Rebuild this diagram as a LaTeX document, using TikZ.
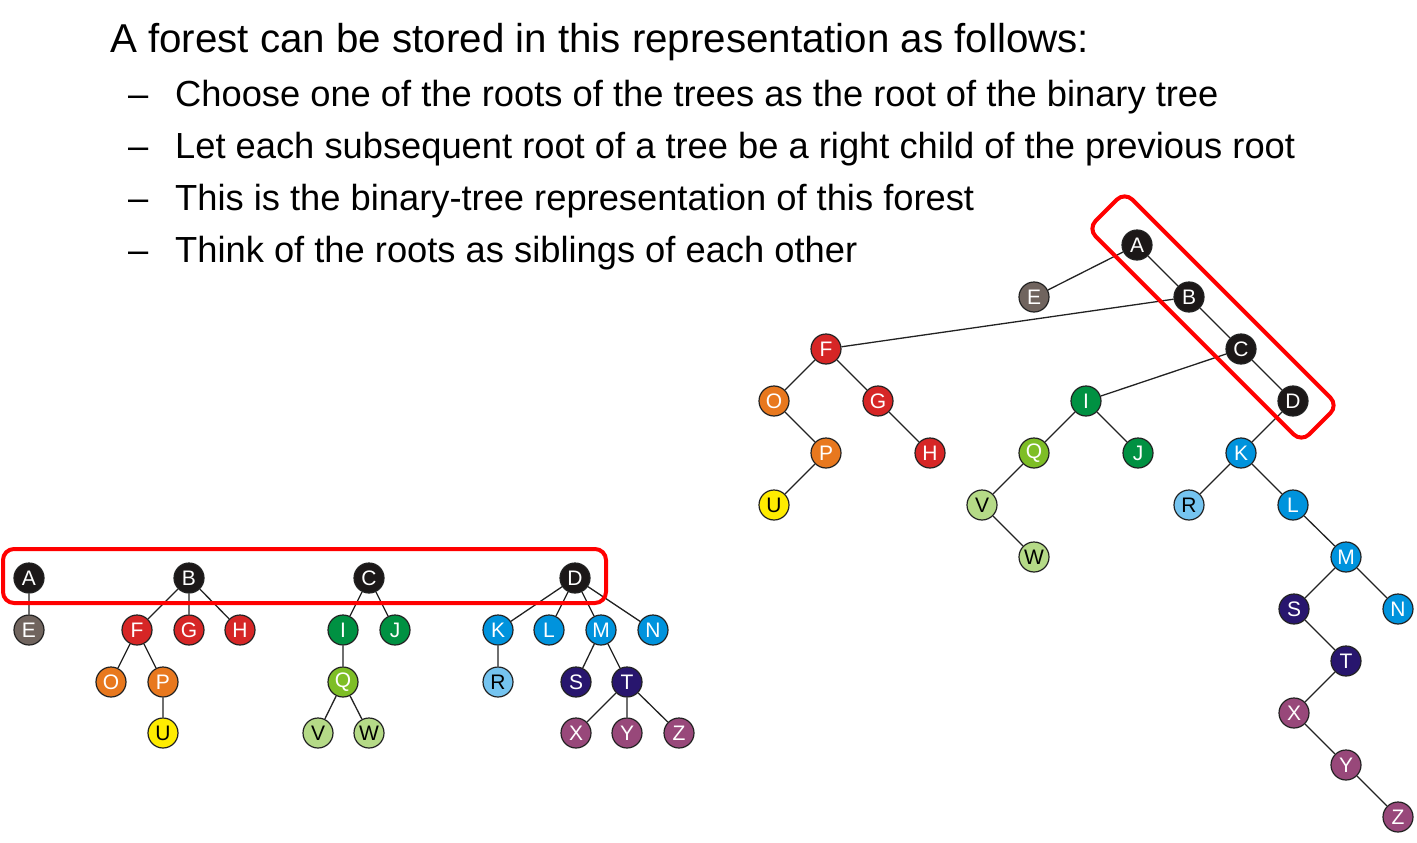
\documentclass[tikz,border=0pt]{standalone}
\usepackage{fontspec}
\setmainfont{Liberation Sans}
\definecolor{rootblack}{RGB}{28,24,24}
\definecolor{egray}{RGB}{112,100,94}
\definecolor{fred}{RGB}{214,38,38}
\definecolor{porange}{RGB}{232,120,30}
\definecolor{uyellow}{RGB}{255,236,0}
\definecolor{igreen}{RGB}{0,145,66}
\definecolor{qgreen}{RGB}{126,190,38}
\definecolor{vgreen}{RGB}{181,218,135}
\definecolor{kblue}{RGB}{0,147,221}
\definecolor{rblue}{RGB}{117,196,240}
\definecolor{snavy}{RGB}{40,22,110}
\definecolor{xpurple}{RGB}{152,72,122}
\definecolor{boxred}{RGB}{255,0,0}
\definecolor{edgegray}{RGB}{34,34,34}
\begin{document}
\begin{tikzpicture}[x=1pt,y=1pt,
        key/.style={circle,draw=edgegray,line width=1.2pt,minimum size=30pt,inner sep=0pt,text=white,font=\fontsize{21}{21}\selectfont},
        darkkey/.style={key,text=black},
        edge/.style={draw=edgegray,line width=1.3pt},
        redbox/.style={draw=boxred,line width=4pt,rounded corners=11pt},
        heading/.style={anchor=base west,inner sep=0pt,font=\fontsize{40.3}{40}\selectfont},
        item/.style={anchor=base west,inner sep=0pt,font=\fontsize{36.3}{36}\selectfont}]
        \useasboundingbox (0,0) rectangle (1417,-843);
        %% text
        \node[heading] (title) at (110,-53) {A forest can be stored in this representation as follows:};
        \node[item] (d1) at (128,-106.5) {–};
        \node[item] (t1) at (175,-106.5) {Choose one of the roots of the trees as the root of the binary tree};
        \node[item] (d2) at (128,-158.5) {–};
        \node[item] (t2) at (175,-158.5) {Let each subsequent root of a tree be a right child of the previous root};
        \node[item] (d3) at (128,-210.5) {–};
        \node[item] (t3) at (175,-210.5) {This is the binary-tree representation of this forest};
        \node[item] (d4) at (128,-262.5) {–};
        \node[item] (t4) at (175,-262.5) {Think of the roots as siblings of each other};
        %% forest
        \node[key,fill=rootblack] (fA) at (29,-578) {A};
        \node[key,fill=egray] (fE) at (29,-630) {E};
        \node[key,fill=rootblack] (fB) at (189,-578) {B};
        \node[key,fill=fred] (fF) at (137,-630) {F};
        \node[key,fill=fred] (fG) at (189,-630) {G};
        \node[key,fill=fred] (fH) at (240,-630) {H};
        \node[key,fill=porange] (fO) at (111,-682) {O};
        \node[key,fill=porange] (fP) at (163,-682) {P};
        \node[darkkey,fill=uyellow] (fU) at (163,-733) {U};
        \node[key,fill=rootblack] (fC) at (369,-578) {C};
        \node[key,fill=igreen] (fI) at (343,-630) {I};
        \node[key,fill=igreen] (fJ) at (395,-630) {J};
        \node[key,fill=qgreen] (fQ) at (343,-682) {Q};
        \node[darkkey,fill=vgreen] (fV) at (318,-733) {V};
        \node[darkkey,fill=vgreen] (fW) at (369,-733) {W};
        \node[key,fill=rootblack] (fD) at (575,-578) {D};
        \node[key,fill=kblue] (fK) at (498,-630) {K};
        \node[key,fill=kblue] (fL) at (549,-630) {L};
        \node[key,fill=kblue] (fM) at (601,-630) {M};
        \node[key,fill=kblue] (fN) at (653,-630) {N};
        \node[darkkey,fill=rblue] (fR) at (498,-682) {R};
        \node[key,fill=snavy] (fS) at (576,-682) {S};
        \node[key,fill=snavy] (fT) at (627,-682) {T};
        \node[key,fill=xpurple] (fX) at (576,-733) {X};
        \node[key,fill=xpurple] (fY) at (627,-733) {Y};
        \node[key,fill=xpurple] (fZ) at (679,-733) {Z};
        \draw[edge] (fA) -- (fE) (fB) -- (fF) (fB) -- (fG) (fB) -- (fH)
            (fF) -- (fO) (fF) -- (fP) (fP) -- (fU)
            (fC) -- (fI) (fC) -- (fJ) (fI) -- (fQ) (fQ) -- (fV) (fQ) -- (fW)
            (fD) -- (fK) (fD) -- (fL) (fD) -- (fM) (fD) -- (fN) (fK) -- (fR)
            (fM) -- (fS) (fM) -- (fT) (fT) -- (fX) (fT) -- (fY) (fT) -- (fZ);
        \draw[redbox] (3,-549) rectangle (606,-603);
        %% binary tree
        \node[key,fill=rootblack] (bA) at (1137,-245) {A};
        \node[key,fill=egray] (bE) at (1034,-297) {E};
        \node[key,fill=rootblack] (bB) at (1189,-297) {B};
        \node[key,fill=fred] (bF) at (826,-349) {F};
        \node[key,fill=rootblack] (bC) at (1241,-349) {C};
        \node[key,fill=porange] (bO) at (774,-401) {O};
        \node[key,fill=fred] (bG) at (878,-401) {G};
        \node[key,fill=igreen] (bI) at (1086,-401) {I};
        \node[key,fill=rootblack] (bD) at (1293,-401) {D};
        \node[key,fill=porange] (bP) at (826,-453) {P};
        \node[key,fill=fred] (bH) at (930,-453) {H};
        \node[key,fill=qgreen] (bQ) at (1034,-453) {Q};
        \node[key,fill=igreen] (bJ) at (1138,-453) {J};
        \node[key,fill=kblue] (bK) at (1241,-453) {K};
        \node[darkkey,fill=uyellow] (bU) at (774,-505) {U};
        \node[darkkey,fill=vgreen] (bV) at (982,-505) {V};
        \node[darkkey,fill=rblue] (bR) at (1189,-505) {R};
        \node[key,fill=kblue] (bL) at (1293,-505) {L};
        \node[darkkey,fill=vgreen] (bW) at (1034,-557) {W};
        \node[key,fill=kblue] (bM) at (1346,-557) {M};
        \node[key,fill=snavy] (bS) at (1294,-609) {S};
        \node[key,fill=kblue] (bN) at (1398,-609) {N};
        \node[key,fill=snavy] (bT) at (1346,-661) {T};
        \node[key,fill=xpurple] (bX) at (1294,-713) {X};
        \node[key,fill=xpurple] (bY) at (1346,-765) {Y};
        \node[key,fill=xpurple] (bZ) at (1398,-817) {Z};
        \draw[edge] (bA) -- (bE) (bA) -- (bB) (bB) -- (bF) (bB) -- (bC)
            (bF) -- (bO) (bF) -- (bG) (bO) -- (bP) (bP) -- (bU) (bG) -- (bH)
            (bC) -- (bI) (bC) -- (bD) (bI) -- (bQ) (bI) -- (bJ) (bQ) -- (bV) (bV) -- (bW)
            (bD) -- (bK) (bK) -- (bR) (bK) -- (bL) (bL) -- (bM) (bM) -- (bS) (bM) -- (bN)
            (bS) -- (bT) (bT) -- (bX) (bX) -- (bY) (bY) -- (bZ);
        \node[redbox,minimum width=302pt,minimum height=52pt,rotate=-45] (roots) at (1213,-317) {};
    \end{tikzpicture}
\end{document}
